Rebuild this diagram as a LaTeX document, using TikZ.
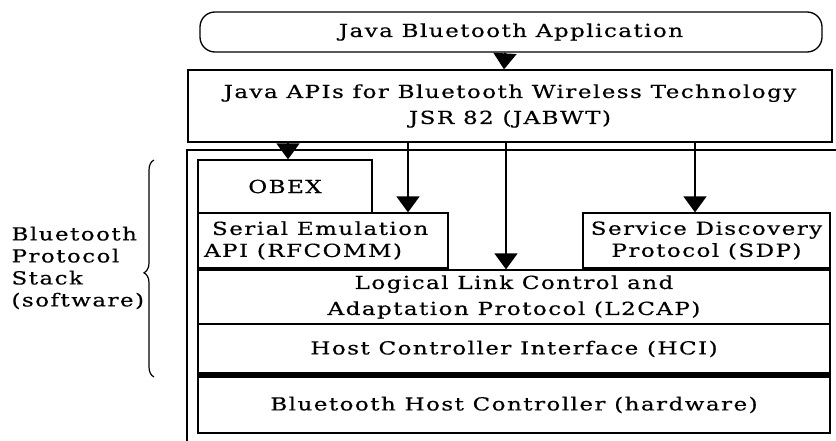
\documentclass[tikz,border=0pt]{standalone}
\usepackage{fontspec}
\setmainfont[FakeStretch=1.28, LetterSpace=8, FakeBold=0.4]{DejaVu Serif}
\usepackage{tikz}
\usetikzlibrary{shapes,arrows.meta,positioning,decorations.pathreplacing}
\tikzstyle{layer} = [rectangle, draw, line width=1.3pt, inner sep=0pt, align=center]
\tikzstyle{line} = [draw, line width=1.6pt]
\tikzstyle{arrow} = [draw, line width=1.8pt, -{Triangle[width=23pt,length=16pt]}]

\begin{document}
\begin{tikzpicture}[x=1pt, y=-1pt, every node/.style={font=\fontsize{18}{26}\selectfont}]
			\useasboundingbox (0,0) rectangle (836,441);
			\node [layer, rounded corners=15pt, minimum width=622pt, minimum height=40pt] (app) at (511,32) {Java Bluetooth Application};
			\node [layer, minimum width=644pt, minimum height=72pt] (jsr) at (510,106) {Java APIs for Bluetooth Wireless Technology\\JSR 82 (JABWT)};
			\node [layer, minimum width=174pt, minimum height=53pt] (obex) at (285,186.5) {OBEX};
			\node [layer, align=left, minimum width=250pt, minimum height=55pt, font=\fontsize{18}{22}\selectfont] (serial) at (323,240.5) {\hspace*{8pt}Serial Emulation\\API (RFCOMM)\hspace*{40pt}};
			\node [layer, minimum width=247pt, minimum height=55pt, font=\fontsize{18}{22}\selectfont] (sdp) at (706.5,240.5) {Service Discovery\\Protocol (SDP)};
			\node [layer, minimum width=632pt, minimum height=54pt] (l2cap) at (514,297) {Logical Link Control and\\Adaptation Protocol (L2CAP)};
			\node [layer, minimum width=632pt, minimum height=50pt] (hci) at (514,349) {Host Controller Interface (HCI)};
			\node [layer, minimum width=632pt, minimum height=56pt] (hw) at (514,405) {Bluetooth Host Controller (hardware)};
			\node [align=left, anchor=west, font=\fontsize{18}{22}\selectfont] (stack) at (8,268) {Bluetooth\\Protocol\\Stack\\(software)};

			% stack frame and brace
			\path [line, line width=1.3pt] (187,441) -- (187,150) -- (836,150);
			\path [line, line width=6pt] (hci.south west) -- (hci.south east);
			\draw [line width=1.2pt, decorate, decoration={brace, amplitude=10pt, aspect=0.48}] (154,377) -- (154,160);

			\path [arrow] ([xshift=-6pt]app.south) -- ([xshift=-6pt]jsr.north);
			\path [arrow] (jsr.south -| 288,0) -- (obex.north -| 288,0);
			\path [arrow] (jsr.south -| 408,0) -- (serial.north -| 408,0);
			\path [arrow] (jsr.south -| 506,0) -- (l2cap.north -| 506,0);
			\path [arrow] (jsr.south -| 695,0) -- (sdp.north -| 695,0);
		\end{tikzpicture}
\end{document}
